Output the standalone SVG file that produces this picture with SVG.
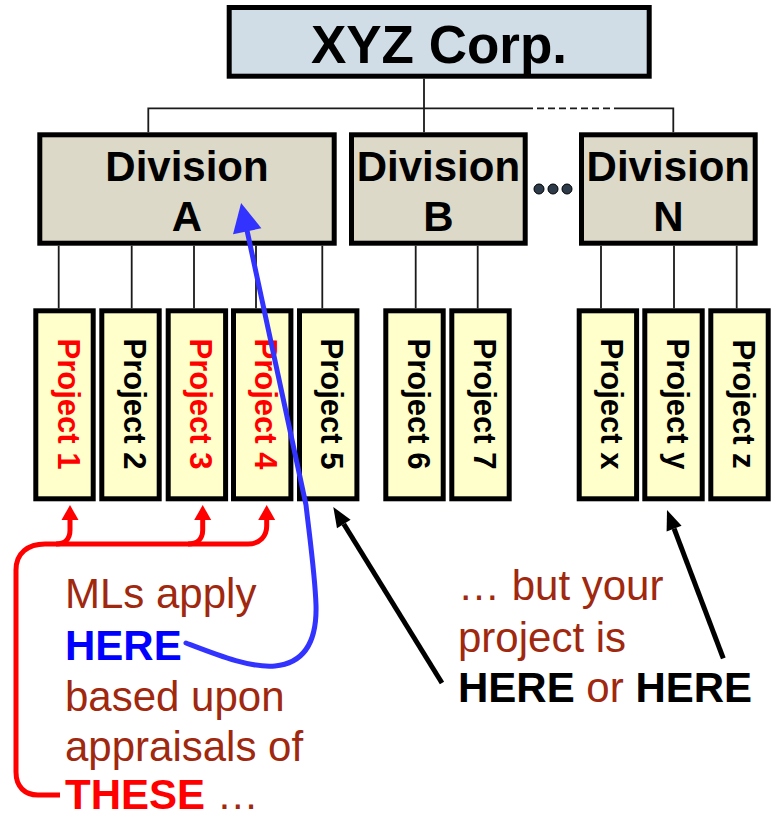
<svg xmlns="http://www.w3.org/2000/svg" width="773" height="817" viewBox="0 0 773 817">
<style>
.box{stroke:#000;stroke-width:5}
.corp{fill:#d1dde6}
.div{fill:#ddd9c8}
.proj{fill:#ffffcc}
.t{font-family:"Liberation Sans",Arial,sans-serif}
.b{font-weight:bold}
.dt{font-size:42px;font-weight:bold;text-anchor:middle;fill:#000}
.pt{font-size:31px;font-weight:bold;text-anchor:middle}
.ln{stroke:#1a1a1a;stroke-width:1.8;fill:none}
.note{font-size:42px;fill:#a0280f}
</style>
<defs>
<marker id="ar" markerUnits="userSpaceOnUse" markerWidth="16" markerHeight="18" refX="0" refY="8.5" orient="auto" overflow="visible">
<path d="M0,0 L15,8.5 L0,17 z" fill="#ff0000"/>
</marker>
<marker id="ab" markerUnits="userSpaceOnUse" markerWidth="30" markerHeight="30" refX="0" refY="14.5" orient="auto" overflow="visible">
<path d="M0,0 L29,14.5 L0,29 z" fill="#3333ff"/>
</marker>
<marker id="ak" markerUnits="userSpaceOnUse" markerWidth="22" markerHeight="18" refX="0" refY="8" orient="auto" overflow="visible">
<path d="M0,0 L20,8 L0,16 z" fill="#000"/>
</marker>
</defs>
<rect width="773" height="817" fill="#fff"/>

<g id="connectors">
<path class="ln" d="M424,78.7 V132.3 M148.3,132.3 V108.3 H526 M617,108.3 H673.3 V132.3"/>
<path class="ln" d="M526,108.3 H617" stroke-dasharray="7,4"/>
<path class="ln" d="M58.7,245.7 V308.3 M131.7,245.7 V308.3 M194,245.7 V308.3 M256,245.7 V308.3 M322.3,245.7 V308.3 M415.7,245.7 V308.3 M477.7,245.7 V308.3 M601,245.7 V308.3 M674,245.7 V308.3 M736.7,245.7 V308.3"/>
</g>

<g id="corp">
<rect class="box corp" x="229.2" y="7.5" width="420" height="68.7"/>
<text class="t b" x="439" y="62.7" font-size="53" text-anchor="middle">XYZ Corp.</text>
</g>

<g id="divA">
<rect class="box div" x="39.8" y="134.8" width="294.4" height="108.4"/>
<text class="t dt" x="187" y="181">Division</text>
<text class="t dt" x="187" y="231">A</text>
</g>
<g id="divB">
<rect class="box div" x="351.5" y="134.8" width="173.7" height="108.4"/>
<text class="t dt" x="438.4" y="181">Division</text>
<text class="t dt" x="438.4" y="231">B</text>
</g>
<g id="dots">
<circle cx="539" cy="189" r="5" fill="#2d3b4b" stroke="#000" stroke-width="1"/>
<circle cx="553" cy="189" r="5" fill="#2d3b4b" stroke="#000" stroke-width="1"/>
<circle cx="567" cy="189" r="5" fill="#2d3b4b" stroke="#000" stroke-width="1"/>
</g>
<g id="divN">
<rect class="box div" x="581.5" y="134.8" width="173.7" height="108.4"/>
<text class="t dt" x="668.3" y="181">Division</text>
<text class="t dt" x="668.3" y="231">N</text>
</g>

<g id="p1"><rect class="box proj" x="35.8" y="310.8" width="57.4" height="188"/><text class="t pt" fill="#ff0000" transform="translate(57.5,404) rotate(90)">Project 1</text></g>
<g id="p2"><rect class="box proj" x="101.8" y="310.8" width="57.4" height="188"/><text class="t pt" fill="#000" transform="translate(123.5,404) rotate(90)">Project 2</text></g>
<g id="p3"><rect class="box proj" x="168.2" y="310.8" width="57.4" height="188"/><text class="t pt" fill="#ff0000" transform="translate(189.9,404) rotate(90)">Project 3</text></g>
<g id="p4"><rect class="box proj" x="233.5" y="310.8" width="57.4" height="188"/><text class="t pt" fill="#ff0000" transform="translate(255.2,404) rotate(90)">Project 4</text></g>
<g id="p5"><rect class="box proj" x="299.5" y="310.8" width="57.4" height="188"/><text class="t pt" fill="#000" transform="translate(321.2,404) rotate(90)">Project 5</text></g>
<g id="p6"><rect class="box proj" x="385.8" y="310.8" width="57.4" height="188"/><text class="t pt" fill="#000" transform="translate(407.5,404) rotate(90)">Project 6</text></g>
<g id="p7"><rect class="box proj" x="451.8" y="310.8" width="57.4" height="188"/><text class="t pt" fill="#000" transform="translate(473.5,404) rotate(90)">Project 7</text></g>
<g id="px"><rect class="box proj" x="579.2" y="310.8" width="57.4" height="188"/><text class="t pt" fill="#000" transform="translate(600.9,404) rotate(90)">Project x</text></g>
<g id="py"><rect class="box proj" x="644.8" y="310.8" width="57.4" height="188"/><text class="t pt" fill="#000" transform="translate(666.5,404) rotate(90)">Project y</text></g>
<g id="pz"><rect class="box proj" x="710.8" y="310.8" width="57.4" height="188"/><text class="t pt" fill="#000" transform="translate(732.5,404) rotate(90)">Project z</text></g>

<g id="arrows">
<path d="M60,795 H38 C25,795 16,787 16,772 V570 C16,553 28,544 45,544 H248 C260,544 266.7,536 266.7,526 V520" fill="none" stroke="#ff0000" stroke-width="5" marker-end="url(#ar)"/>
<path d="M56,544 C65,544 70,539 70,530 V520" fill="none" stroke="#ff0000" stroke-width="5" marker-end="url(#ar)"/>
<path d="M188,544 C197,544 202.7,539 202.7,530 V520" fill="none" stroke="#ff0000" stroke-width="5" marker-end="url(#ar)"/>
<path d="M186,643 C220,656 250,668 275,666 C305,663 317,640 316,605 C315,575 310,540 306,505 L247.2,231.3" fill="none" stroke="#3333ff" stroke-width="5" stroke-linecap="round" marker-end="url(#ab)"/>
<path d="M442,683 L343.8,524" fill="none" stroke="#000" stroke-width="5" marker-end="url(#ak)"/>
<path d="M723.3,658.3 L674.1,528.7" fill="none" stroke="#000" stroke-width="5" marker-end="url(#ak)"/>
</g>

<g id="note-left" class="t note">
<text x="65" y="608">MLs apply</text>
<text x="65" y="660" class="b" fill="#0000ff">HERE</text>
<text x="65" y="711">based upon</text>
<text x="65" y="761">appraisals of</text>
<text x="65" y="809"><tspan class="b" fill="#ff0000">THESE</tspan> …</text>
</g>
<g id="note-right" class="t note">
<text x="458" y="600">… but your</text>
<text x="458" y="652">project is</text>
<text x="458" y="702"><tspan class="b" fill="#000">HERE</tspan> or <tspan class="b" fill="#000">HERE</tspan></text>
</g>
</svg>
